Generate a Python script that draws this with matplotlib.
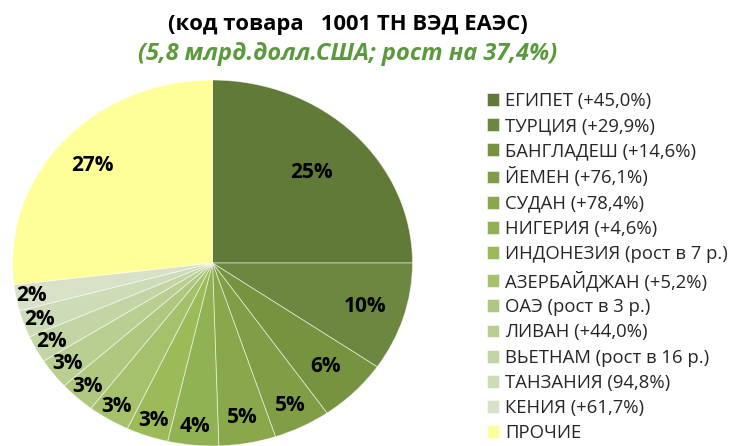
import matplotlib.pyplot as plt
import numpy as np

plt.rcParams['font.family'] = ['Open Sans', 'DejaVu Sans']

countries = ['ЕГИПЕТ (+45,0%)', 'ТУРЦИЯ (+29,9%)', 'БАНГЛАДЕШ (+14,6%)', 'ЙЕМЕН (+76,1%)',
             'СУДАН (+78,4%)', 'НИГЕРИЯ (+4,6%)', 'ИНДОНЕЗИЯ (рост в 7 р.)', 'АЗЕРБАЙДЖАН (+5,2%)',
             'ОАЭ (рост в 3 р.)', 'ЛИВАН (+44,0%)', 'ВЬЕТНАМ (рост в 16 р.)', 'ТАНЗАНИЯ (94,8%)',
             'КЕНИЯ (+61,7%)', 'ПРОЧИЕ']
shares = [25.0, 9.6, 5.7, 4.6, 4.6, 4.1, 3.4, 3.4, 2.9, 2.7, 2.4, 2.4, 2.3, 26.9]

colors = ['#627A37', '#6B8740', '#76933F', '#7F9E46', '#88A84B', '#91B252', '#9BBB59',
          '#A5C16C', '#AFC77F', '#B9CE91', '#C3D5A4', '#CDDBB7', '#D7E2C9', '#FFFF99']
# radial position of each percent label (fraction of radius)
label_dist = [0.70, 0.80, 0.80, 0.87, 0.86, 0.90, 0.91, 0.92, 0.92, 0.91, 0.91, 0.92, 0.92, 0.80]

fig = plt.figure(figsize=(7.31, 4.46), dpi=100)
W, H = 731, 446
cx, cy, rx, ry = 212.5, 263, 200, 183
pad = 1.03
ax = fig.add_axes([(cx - rx * pad) / W, (H - cy - ry * pad) / H,
                   2 * rx * pad / W, 2 * ry * pad / H])

wedges, _ = ax.pie(shares, colors=colors, startangle=90, counterclock=False,
                   wedgeprops=dict(edgecolor=(1, 1, 1, 0.6), linewidth=0.6))
ax.set_aspect('auto')
ax.set_xlim(-pad, pad)
ax.set_ylim(-pad, pad)
ax.axis('off')

for w, s, d in zip(wedges, shares, label_dist):
    ang = np.deg2rad((w.theta1 + w.theta2) / 2)
    ax.text(d * np.cos(ang), d * np.sin(ang), f'{round(s)}%', ha='center', va='center',
            fontsize=15, fontweight='bold', color='black')

fig.text(0.476, 0.946, '(код товара   1001 ТН ВЭД ЕАЭС)', ha='center', va='center',
         fontsize=15.8, fontweight='bold', color='black')
fig.text(0.476, 0.880, '(5,8 млрд.долл.США; рост на 37,4%)', ha='center', va='center',
         fontsize=17, fontweight='bold', fontstyle='italic', color='#5A9A3C')

fig.legend(wedges, countries, loc='upper left', bbox_to_anchor=(0.666, 0.794),
           frameon=False, fontsize=13.3, handlelength=0.68, handleheight=0.68,
           handletextpad=0.3, labelspacing=0.39, borderaxespad=0, borderpad=0,
           labelcolor='#262626')

fig.savefig('out.png', dpi=100)
